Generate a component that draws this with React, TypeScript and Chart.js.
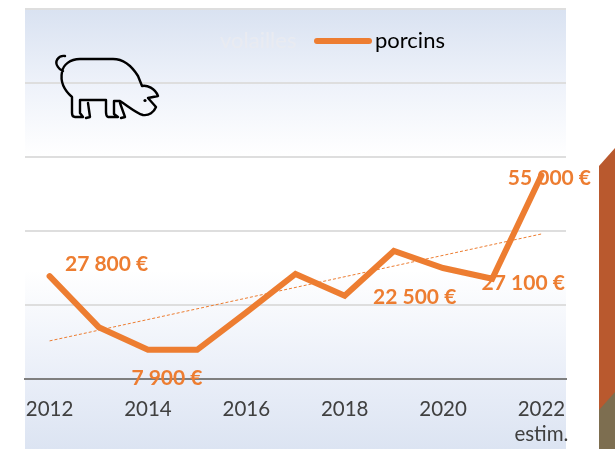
import { useEffect, useRef } from "react";
import { Chart, registerables } from "chart.js";

Chart.register(...registerables);

const years = ["2012", "2013", "2014", "2015", "2016", "2017", "2018", "2019", "2020", "2021", "2022"];
const shownYears = ["2012", "2014", "2016", "2018", "2020", "2022"];
const estimateNote = "estim.";
const porcins = [27800, 14000, 7900, 7900, 18000, 28400, 22500, 34600, 30000, 27100, 55000];
const trend = [10300, null, null, null, null, null, null, null, null, null, 39200];
const legendNames = ["volailles", "porcins"];
const valueLabels = [
  { index: 0, text: "27 800 €" },
  { index: 2, text: "7 900 €" },
  { index: 6, text: "22 500 €" },
  { index: 9, text: "27 100 €" },
  { index: 10, text: "55 000 €" },
];

const ORANGE = "#ed7d31";
const labelOffsets: Record<number, [number, number]> = {
  0: [57, -12],
  2: [19, 28],
  6: [70, 1],
  9: [31, 5],
  10: [8, 3],
};

const pigPath =
  "M65 56 C58 55 54 62 58 67 C59 69 61 70 63 71 " +
  "M80 59 L113 59 C125 59 133 68 138 76 L142 86 C147 85 155 88 158 96 L148 98 L156 107 C154 112 149 116 143 115 C136 113 128 106 120 101 L114 101 L114 114 L118 117 L108 117 C106 116 106 114 106 112 L106 100 L80 100 L80 113 L83 117 L75 117 C72 117 72 115 72 113 L72 97 C64 90 60 82 62 72 C63 65 70 59 80 59 " +
  "M88 103 L90 117 L86 118 " +
  "M120 103 L125 117 L121 118";

const backdropPlugin = {
  id: "backdrop",
  beforeDraw(chart: Chart) {
    const ctx = chart.ctx;
    const top = 9;
    const bottom = 449;
    const g = ctx.createLinearGradient(0, top, 0, bottom);
    const stop = (y: number) => (y - top) / (bottom - top);
    g.addColorStop(0, "#d9e2f1");
    g.addColorStop(stop(84), "#eef2fa");
    g.addColorStop(stop(157), "#ffffff");
    g.addColorStop(stop(270), "#ffffff");
    g.addColorStop(stop(379), "#e9eef8");
    g.addColorStop(1, "#dce4f2");
    ctx.save();
    ctx.fillStyle = g;
    ctx.fillRect(25, top, 541, bottom - top);
    ctx.fillStyle = "#b9592e";
    ctx.beginPath();
    ctx.moveTo(615, 148);
    ctx.lineTo(599, 166);
    ctx.lineTo(599, 412);
    ctx.lineTo(615, 412);
    ctx.closePath();
    ctx.fill();
    ctx.fillStyle = "#7d6e50";
    ctx.beginPath();
    ctx.moveTo(615, 392);
    ctx.lineTo(599, 410);
    ctx.lineTo(599, 449);
    ctx.lineTo(615, 449);
    ctx.closePath();
    ctx.fill();
    ctx.restore();
  },
};

const overlayPlugin = {
  id: "overlay",
  afterDraw(chart: Chart) {
    const ctx = chart.ctx;
    const xs = chart.scales.x;
    const ys = chart.scales.y;
    ctx.save();
    ctx.font = "bold 21px Lato";
    ctx.fillStyle = ORANGE;
    ctx.textAlign = "center";
    ctx.textBaseline = "middle";
    valueLabels.forEach(({ index, text }) => {
      const [dx, dy] = labelOffsets[index];
      ctx.fillText(text, xs.getPixelForValue(index) + dx, ys.getPixelForValue(porcins[index]) + dy);
    });
    ctx.font = "22px Lato";
    ctx.textAlign = "left";
    ctx.fillStyle = "#e9ebf1";
    ctx.fillText(legendNames[0], 220, 41);
    ctx.fillStyle = "#000000";
    ctx.fillText(legendNames[1], 375, 41);
    ctx.strokeStyle = ORANGE;
    ctx.lineWidth = 6;
    ctx.lineCap = "round";
    ctx.beginPath();
    ctx.moveTo(317, 41);
    ctx.lineTo(369, 41);
    ctx.stroke();
    ctx.strokeStyle = "#000000";
    ctx.lineWidth = 2.4;
    ctx.lineJoin = "round";
    ctx.stroke(new Path2D(pigPath));
    ctx.fillStyle = "#000000";
    ctx.beginPath();
    ctx.arc(145, 100.5, 1.6, 0, Math.PI * 2);
    ctx.fill();
    ctx.restore();
  },
};

export default function App() {
  const ref = useRef<HTMLCanvasElement>(null);
  useEffect(() => {
    document.body.style.margin = "0";
    const chart = new Chart(ref.current!, {
      type: "line",
      data: {
        labels: years,
        datasets: [
          {
            label: legendNames[1],
            data: porcins,
            borderColor: ORANGE,
            borderWidth: 6,
            borderCapStyle: "round",
            borderJoinStyle: "miter",
            pointRadius: 0,
            tension: 0,
          },
          {
            label: "tendance",
            data: trend,
            borderColor: ORANGE,
            borderWidth: 1,
            borderDash: [3, 2],
            pointRadius: 0,
            spanGaps: true,
          },
        ],
      },
      options: {
        animation: false,
        responsive: false,
        layout: { padding: { left: 0, right: 49, top: 9, bottom: 0 } },
        plugins: { legend: { display: false }, tooltip: { enabled: false }, title: { display: false } },
        scales: {
          x: {
            offset: true,
            afterFit: (s: any) => {
              s.height = 70;
            },
            grid: { display: false },
            border: { color: "#7f7f7f", width: 2 },
            ticks: {
              autoSkip: false,
              maxRotation: 0,
              padding: 10,
              color: "#404040",
              font: { family: "Lato", size: 20.5 },
              callback: (_v: any, i: number) => {
                const y = years[i];
                if (!shownYears.includes(y)) return "";
                return i === years.length - 1 ? [y, estimateNote] : y;
              },
            },
          },
          y: {
            min: 0,
            max: 100000,
            afterFit: (s: any) => {
              s.width = 25;
            },
            ticks: { display: false, stepSize: 20000 },
            border: { display: false },
            grid: {
              drawTicks: false,
              lineWidth: 2,
              color: (c: any) => (c.tick.value === 0 ? "#7f7f7f" : "#dedede"),
            },
          },
        },
      },
      plugins: [backdropPlugin, overlayPlugin],
    } as any);
    return () => chart.destroy();
  }, []);
  return (
    <div style={{ position: "absolute", left: 0, top: 0, width: 615, height: 449 }}>
      <canvas ref={ref} width={615} height={449} style={{ display: "block" }} />
    </div>
  );
}
